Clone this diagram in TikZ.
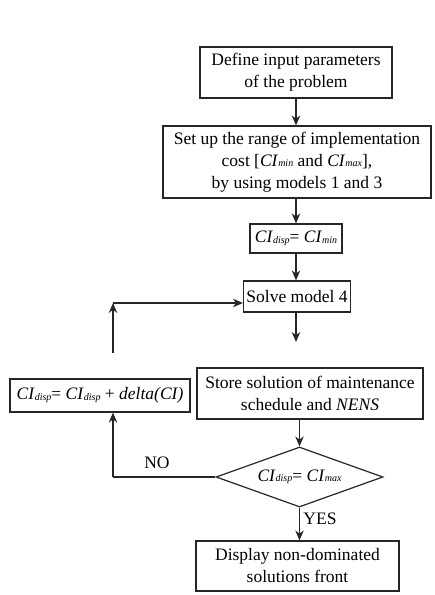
\documentclass[tikz,border=0pt]{standalone}
\usepackage{fontspec}
\setmainfont{Liberation Serif}
\usetikzlibrary{arrows.meta,shapes.geometric,calc}
\newcommand\myci[1]{\textit{CI}\raisebox{-0.5pt}{\fontsize{10}{10}\selectfont\textit{#1}}}
\tikzset{
  box/.style={draw=black!85, line width=1.2pt, fill=white, align=center, inner sep=0pt, font=\fontsize{17.5}{22}\selectfont},
  arr/.style={draw=black!85, line width=1.2pt, -{Stealth[length=10pt,width=8.5pt]}},
  ln/.style={draw=black!85, line width=1.2pt},
  lbl/.style={font=\fontsize{17.5}{18}\selectfont, inner sep=0pt}
}
\begin{document}
\begin{tikzpicture}[x=1pt,y=-1pt]
\useasboundingbox (0,0) rectangle (435,595);
\node[box, minimum width=192pt, minimum height=51pt] (n1) at (296,72.5) {Define input parameters\\of the problem};
\node[box, minimum width=268pt, minimum height=72pt] (n2) at (297,162) {Set up the range of implementation\\cost [\myci{min} and \myci{max}],\\by using models 1 and 3};
\node[box, minimum width=92pt, minimum height=29pt] (n3) at (296,238.5) {\myci{disp}= \myci{min}};
\node[box, minimum width=107pt, minimum height=31pt] (n4) at (297,296.5) {Solve model 4};
\coordinate (e4) at (296,342);
\node[box, minimum width=226pt, minimum height=51pt] (n5) at (310,393.5) {Store solution of maintenance\\schedule and \textit{NENS}};
\node[diamond, aspect=2.8, draw=black!85, line width=1.2pt, inner sep=0pt, minimum width=167pt, minimum height=60pt, font=\fontsize{17.5}{18}\selectfont] (n6) at (299.5,477) {\myci{disp}= \myci{max}};
\node[box, minimum width=203pt, minimum height=50pt] (n7) at (297.5,566) {Display non-dominated\\solutions front};
\node[box, minimum width=180pt, minimum height=33pt] (n8) at (100,395.5) {\myci{disp}= \myci{disp} + \textit{delta(CI)}};
\coordinate (fa) at (113,353);
\coordinate (fb) at (113,303);
\coordinate (nc) at (113,477);
\draw[arr] (n1.south -| 296,0) -- (n2.north -| 296,0);
\draw[arr] (n2.south -| 296,0) -- (n3.north -| 296,0);
\draw[arr] (n3.south -| 296,0) -- (n4.north -| 296,0);
\draw[arr] (n4.south -| e4) -- (e4);
\draw[arr] (n6.north |- n5.south) -- (n6.north);
\draw[arr] (n6.south) -- (n7.north -| n6.south);
\draw[ln] (n6.west) -- (nc);
\draw[arr] (nc) -- (n8.south -| nc);
\draw[arr] (fa) -- (fb);
\draw[arr] (fb) -- (fb -| n4.west);
\node[lbl] (no) at (157,463) {NO};
\node[lbl] (yes) at (320,519) {YES};
\end{tikzpicture}
\end{document}
